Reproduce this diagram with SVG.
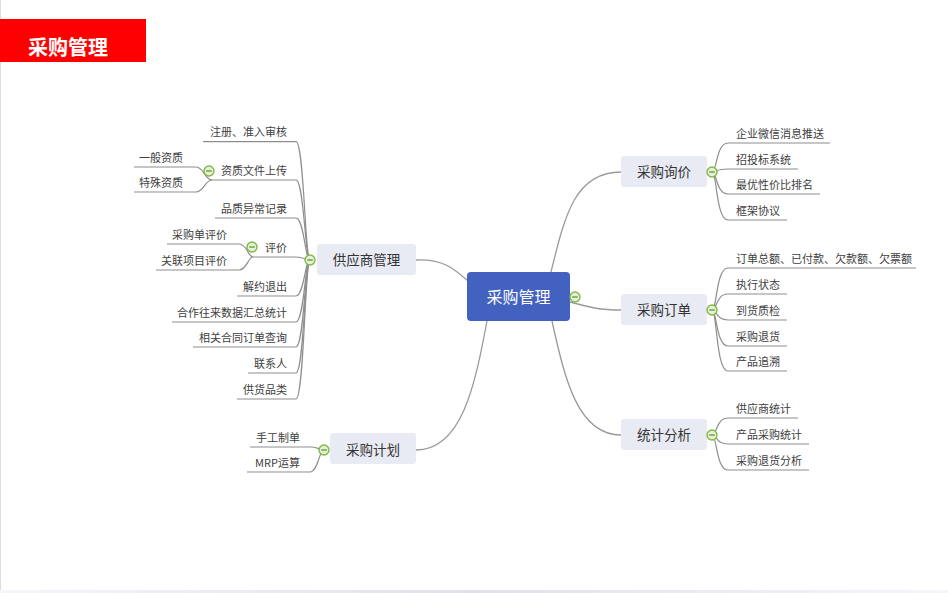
<svg xmlns="http://www.w3.org/2000/svg" xmlns:xlink="http://www.w3.org/1999/xlink" width="948" height="593" viewBox="0 0 948 593">
<style>
.t{font-family:"Noto Sans CJK SC","Liberation Sans",sans-serif;font-size:11px;fill:#404040}
.tl{text-anchor:end}
.nt{font-family:"Noto Sans CJK SC","Liberation Sans",sans-serif;font-size:13.5px;fill:#333;text-anchor:middle}
.node{fill:#e9ebf4}
.ln{fill:none;stroke:#8e8e8e;stroke-width:1.2}
.mln{fill:none;stroke:#9a9a9a;stroke-width:1.3}
</style>
<defs>
<g id="btn"><circle r="5" fill="#e4f1d3" stroke="#80b84a" stroke-width="1.4"/><line x1="-2.8" y1="0" x2="2.8" y2="0" stroke="#6f9a47" stroke-width="1.4"/></g>
<linearGradient id="bg" x1="0" x2="1" y1="0" y2="0"><stop offset="0" stop-color="#f6f5fa"/><stop offset="0.5" stop-color="#e2e0ea"/><stop offset="1" stop-color="#f6f5fa"/></linearGradient>
</defs>
<rect x="0" y="0" width="948" height="593" fill="#ffffff"/>
<line x1="0.5" y1="0" x2="0.5" y2="590" stroke="#dddddd" stroke-width="1"/>
<rect x="0" y="590" width="948" height="3" fill="url(#bg)"/>
<g id="title">
<rect x="0" y="19" width="146" height="43" fill="#ff0000"/>
<text x="28" y="55" font-family="Noto Sans CJK SC,Liberation Sans,sans-serif" font-size="20" font-weight="bold" fill="#ffffff">采购管理</text>
</g>
<g id="connectors">
<path class="mln" d="M416 260 C445 259 455 270 468 281"/>
<path class="mln" d="M551 272 C565 215 575 172 621 172"/>
<path class="mln" d="M570 302 C592 308 600 310 621 310"/>
<path class="mln" d="M552 321 C565 380 578 435 621 435"/>
<path class="mln" d="M487 321 C475 385 462 450 416 450"/>
<path class="ln" d="M203 141.7 H296 C304 141.7 305 260 310 260"/>
<path class="ln" d="M212 180 H296 C304 180 305 260 310 260"/>
<path class="ln" d="M215 218 H296 C304 218 305 260 310 260"/>
<path class="ln" d="M253 257 H296 C304 257 305 260 310 260"/>
<path class="ln" d="M237 296 H296 C304 296 305 260 310 260"/>
<path class="ln" d="M172 322 H296 C304 322 305 260 310 260"/>
<path class="ln" d="M193 347 H296 C304 347 305 260 310 260"/>
<path class="ln" d="M248 373 H296 C304 373 305 260 310 260"/>
<path class="ln" d="M237 399 H296 C304 399 305 260 310 260"/>
<path class="ln" d="M134 167 H196 C204 167 205 180 212 180"/>
<path class="ln" d="M134 192 H196 C204 192 205 180 212 180"/>
<path class="ln" d="M167 244 H239 C247 244 248 257 253 257"/>
<path class="ln" d="M156 270 H239 C247 270 248 257 253 257"/>
<path class="ln" d="M250 447 H312 C318 447 319 450 324 450"/>
<path class="ln" d="M247 472 H310 C318 472 319 450 324 450"/>
<path class="ln" d="M712 172 C717 172 716 143 728 143 H830"/>
<path class="ln" d="M712 172 C717 172 716 169 728 169 H798"/>
<path class="ln" d="M712 172 C717 172 716 194 728 194 H820"/>
<path class="ln" d="M712 172 C717 172 716 220 728 220 H787"/>
<path class="ln" d="M712 310 C717 310 716 268 728 268 H916"/>
<path class="ln" d="M712 310 C717 310 716 294 728 294 H787"/>
<path class="ln" d="M712 310 C717 310 716 320 728 320 H787"/>
<path class="ln" d="M712 310 C717 310 716 346 728 346 H787"/>
<path class="ln" d="M712 310 C717 310 716 371 728 371 H787"/>
<path class="ln" d="M712 435 C717 435 716 418 728 418 H798"/>
<path class="ln" d="M712 435 C717 435 716 444 728 444 H809"/>
<path class="ln" d="M712 435 C717 435 716 470 728 470 H809"/>
</g>
<g id="root">
<rect x="467" y="272" width="103" height="49" rx="4" fill="#4361bf"/>
<text x="518.5" y="303" font-family="Noto Sans CJK SC,Liberation Sans,sans-serif" font-size="16" fill="#ffffff" text-anchor="middle">采购管理</text>
<use xlink:href="#btn" x="575" y="297"/>
</g>
<g id="supplier">
<rect class="node" x="317" y="244" width="99" height="31" rx="3"/>
<text class="nt" x="366.5" y="265">供应商管理</text>
<use xlink:href="#btn" x="310" y="260"/>
<text class="t tl" x="287" y="136.2">注册、准入审核</text>
<text class="t tl" x="287" y="174.5">资质文件上传</text>
<use xlink:href="#btn" x="209" y="171"/>
<text class="t tl" x="183" y="161.5">一般资质</text>
<text class="t tl" x="183" y="186.5">特殊资质</text>
<text class="t tl" x="287" y="212.5">品质异常记录</text>
<text class="t tl" x="287" y="251.5">评价</text>
<use xlink:href="#btn" x="252" y="247"/>
<text class="t tl" x="227" y="238.5">采购单评价</text>
<text class="t tl" x="227" y="264.5">关联项目评价</text>
<text class="t tl" x="287" y="290.5">解约退出</text>
<text class="t tl" x="287" y="316.5">合作往来数据汇总统计</text>
<text class="t tl" x="287" y="341.5">相关合同订单查询</text>
<text class="t tl" x="287" y="367.5">联系人</text>
<text class="t tl" x="287" y="393.5">供货品类</text>
</g>
<g id="plan">
<rect class="node" x="330" y="433" width="86" height="31" rx="3"/>
<text class="nt" x="373" y="455">采购计划</text>
<use xlink:href="#btn" x="324" y="450"/>
<text class="t tl" x="300" y="441.5">手工制单</text>
<text class="t tl" x="300" y="466.5">MRP运算</text>
</g>
<g id="inquiry">
<rect class="node" x="621" y="156" width="86" height="31" rx="3"/>
<text class="nt" x="664" y="177">采购询价</text>
<use xlink:href="#btn" x="712" y="172"/>
<text class="t" x="736" y="137.5">企业微信消息推送</text>
<text class="t" x="736" y="163.5">招投标系统</text>
<text class="t" x="736" y="188.5">最优性价比排名</text>
<text class="t" x="736" y="214.5">框架协议</text>
</g>
<g id="order">
<rect class="node" x="621" y="294" width="86" height="31" rx="3"/>
<text class="nt" x="664" y="315">采购订单</text>
<use xlink:href="#btn" x="712" y="310"/>
<text class="t" x="736" y="262.5">订单总额、已付款、欠款额、欠票额</text>
<text class="t" x="736" y="288.5">执行状态</text>
<text class="t" x="736" y="314.5">到货质检</text>
<text class="t" x="736" y="340.5">采购退货</text>
<text class="t" x="736" y="365.5">产品追溯</text>
</g>
<g id="stats">
<rect class="node" x="621" y="419" width="86" height="31" rx="3"/>
<text class="nt" x="664" y="440">统计分析</text>
<use xlink:href="#btn" x="712" y="435"/>
<text class="t" x="736" y="412.5">供应商统计</text>
<text class="t" x="736" y="438.5">产品采购统计</text>
<text class="t" x="736" y="464.5">采购退货分析</text>
</g>
</svg>
